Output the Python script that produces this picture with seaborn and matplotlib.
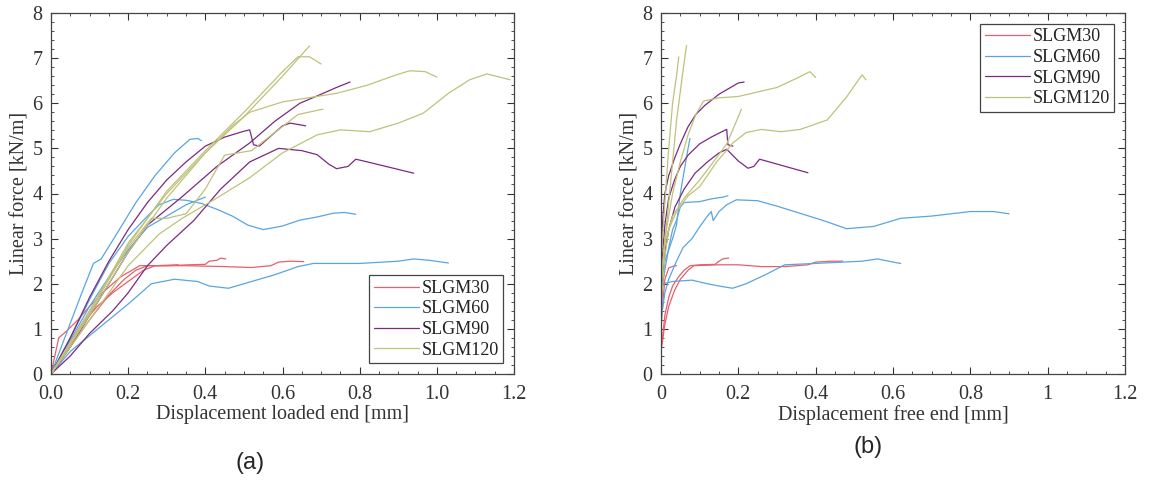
import numpy as np
import pandas as pd
import matplotlib
matplotlib.use("Agg")
import matplotlib.pyplot as plt
from matplotlib.ticker import MultipleLocator
import seaborn as sns

# Groups and colours
groups = ["SLGM30", "SLGM60", "SLGM90", "SLGM120"]
colors = ["#e5606c", "#5aa5e0", "#7a2a80", "#bfc27a"]

# (a) loaded end: each specimen is a list of (displacement mm, force kN/m)
load_slgm30 = [
    [(0, 0), (0.02, 0.8), (0.04, 0.95), (0.07, 1.2), (0.1, 1.5), (0.14, 1.85), (0.18, 2.15), (0.21, 2.3),
     (0.23, 2.4), (0.3, 2.4), (0.36, 2.42), (0.4, 2.43), (0.41, 2.5), (0.43, 2.52), (0.44, 2.57), (0.453, 2.55)],
    [(0, 0), (0.05, 0.6), (0.1, 1.2), (0.15, 1.75), (0.19, 2.1), (0.22, 2.3), (0.25, 2.4), (0.35, 2.4),
     (0.45, 2.38), (0.52, 2.36), (0.57, 2.4), (0.59, 2.48), (0.62, 2.5), (0.655, 2.49)],
    [(0, 0), (0.04, 0.6), (0.08, 1.1), (0.12, 1.5), (0.16, 1.8), (0.2, 2.05), (0.24, 2.3), (0.27, 2.4), (0.33, 2.42)],
]
load_slgm60 = [
    [(0, 0), (0.04, 0.9), (0.08, 1.8), (0.11, 2.45), (0.13, 2.55), (0.17, 3.1), (0.22, 3.8), (0.27, 4.4),
     (0.32, 4.9), (0.36, 5.2), (0.38, 5.22), (0.39, 5.17)],
    [(0, 0), (0.05, 0.8), (0.1, 1.65), (0.15, 2.45), (0.2, 3.05), (0.25, 3.5), (0.28, 3.75), (0.317, 3.87),
     (0.35, 3.85), (0.39, 3.78), (0.43, 3.65), (0.47, 3.5), (0.51, 3.3), (0.55, 3.2), (0.6, 3.28),
     (0.645, 3.41), (0.69, 3.48), (0.73, 3.56), (0.76, 3.58), (0.79, 3.54)],
    [(0, 0), (0.05, 0.5), (0.1, 0.85), (0.15, 1.2), (0.2, 1.55), (0.24, 1.85), (0.26, 2.0), (0.32, 2.1),
     (0.38, 2.05), (0.41, 1.95), (0.46, 1.9), (0.5, 2.0), (0.58, 2.2), (0.64, 2.38), (0.68, 2.45),
     (0.8, 2.45), (0.9, 2.5), (0.94, 2.55), (0.98, 2.52), (1.03, 2.46)],
    [(0, 0), (0.05, 0.75), (0.1, 1.5), (0.15, 2.15), (0.2, 2.75), (0.25, 3.25), (0.3, 3.5), (0.35, 3.75), (0.4, 3.92)],
]
load_slgm90 = [
    [(0, 0), (0.05, 0.6), (0.1, 1.3), (0.15, 2.0), (0.2, 2.7), (0.25, 3.3), (0.3, 3.65), (0.34, 3.93),
     (0.43, 4.6), (0.515, 5.12), (0.58, 5.6), (0.645, 6.0), (0.7, 6.2), (0.74, 6.35), (0.775, 6.47)],
    [(0, 0), (0.05, 0.8), (0.1, 1.7), (0.15, 2.5), (0.2, 3.2), (0.25, 3.8), (0.3, 4.3), (0.35, 4.7),
     (0.4, 5.05), (0.45, 5.25), (0.5, 5.38), (0.515, 5.41), (0.525, 5.08), (0.54, 5.05), (0.56, 5.2),
     (0.6, 5.5), (0.62, 5.56), (0.66, 5.5)],
    [(0, 0), (0.05, 0.4), (0.1, 0.9), (0.16, 1.4), (0.2, 1.8), (0.25, 2.4), (0.3, 2.85), (0.37, 3.4),
     (0.44, 4.1), (0.515, 4.7), (0.59, 5.0), (0.65, 4.95), (0.69, 4.86), (0.72, 4.65), (0.74, 4.55),
     (0.77, 4.6), (0.79, 4.76), (0.82, 4.7), (0.94, 4.45)],
]
load_slgm120 = [
    [(0, 0), (0.1, 1.4), (0.2, 2.9), (0.3, 4.0), (0.4, 4.9), (0.5, 5.7), (0.6, 6.6), (0.67, 7.27)],
    [(0, 0), (0.1, 1.35), (0.2, 2.85), (0.3, 4.05), (0.4, 4.95), (0.5, 5.8), (0.6, 6.7), (0.64, 7.03),
     (0.67, 7.03), (0.7, 6.87)],
    [(0, 0), (0.1, 1.3), (0.2, 2.7), (0.3, 3.9), (0.4, 4.9), (0.47, 5.5), (0.515, 5.8), (0.6, 6.03),
     (0.74, 6.22), (0.82, 6.4), (0.895, 6.63), (0.93, 6.72), (0.97, 6.7), (1.0, 6.58)],
    [(0, 0), (0.1, 1.2), (0.2, 2.4), (0.28, 3.1), (0.34, 3.45), (0.43, 3.9), (0.515, 4.35), (0.6, 4.9),
     (0.69, 5.3), (0.75, 5.41), (0.826, 5.37), (0.9, 5.56), (0.965, 5.78), (1.03, 6.22), (1.085, 6.52),
     (1.13, 6.65), (1.19, 6.52)],
    [(0, 0), (0.1, 1.4), (0.2, 2.8), (0.26, 3.45), (0.3, 3.45), (0.35, 3.55), (0.4, 4.1), (0.45, 4.85),
     (0.52, 4.95), (0.58, 5.35), (0.64, 5.75), (0.705, 5.87)],
]

# (b) free end
free_slgm30 = [
    [(0, 0), (0, 0.55), (0.005, 0.9), (0.01, 1.3), (0.02, 1.7), (0.03, 1.95), (0.045, 2.15), (0.06, 2.3),
     (0.075, 2.4), (0.1, 2.42), (0.14, 2.43), (0.15, 2.5), (0.16, 2.55), (0.175, 2.57)],
    [(0, 0), (0, 0.5), (0.01, 1.1), (0.02, 1.5), (0.035, 1.85), (0.05, 2.1), (0.07, 2.3), (0.085, 2.4),
     (0.15, 2.42), (0.2, 2.42), (0.26, 2.38), (0.32, 2.38), (0.38, 2.42), (0.4, 2.48), (0.44, 2.5), (0.47, 2.5)],
    [(0, 0), (0, 1.0), (0.005, 1.6), (0.01, 2.1), (0.02, 2.35), (0.035, 2.4), (0.04, 2.4)],
]
free_slgm60 = [
    [(0, 0), (0, 2.0), (0.01, 2.5), (0.03, 3.0), (0.04, 3.3), (0.05, 4.0), (0.06, 4.5), (0.07, 5.0), (0.075, 5.22)],
    [(0, 0), (0, 1.8), (0.01, 2.3), (0.02, 2.8), (0.03, 3.2), (0.04, 3.4), (0.05, 3.7), (0.06, 3.8),
     (0.1, 3.82), (0.13, 3.88), (0.16, 3.92), (0.173, 3.95)],
    [(0, 0), (0, 1.2), (0.01, 1.8), (0.02, 2.1), (0.04, 2.5), (0.057, 2.8), (0.08, 3.0), (0.1, 3.26),
     (0.12, 3.5), (0.13, 3.6), (0.135, 3.4), (0.15, 3.6), (0.17, 3.75), (0.195, 3.86), (0.25, 3.84),
     (0.3, 3.72), (0.36, 3.56), (0.42, 3.4), (0.48, 3.22), (0.55, 3.27), (0.62, 3.45), (0.7, 3.5),
     (0.8, 3.6), (0.86, 3.6), (0.9, 3.55)],
    [(0, 0), (0, 1.4), (0.005, 2.0), (0.03, 2.05), (0.08, 2.08), (0.12, 2.0), (0.15, 1.95), (0.185, 1.9),
     (0.22, 2.0), (0.27, 2.2), (0.32, 2.42), (0.4, 2.45), (0.47, 2.48), (0.52, 2.5), (0.56, 2.55),
     (0.6, 2.48), (0.62, 2.45)],
]
free_slgm90 = [
    [(0, 0), (0, 2.5), (0.005, 3.5), (0.01, 4.0), (0.02, 4.4), (0.036, 4.8), (0.05, 5.1), (0.07, 5.48),
     (0.09, 5.75), (0.113, 5.95), (0.15, 6.2), (0.18, 6.35), (0.2, 6.45), (0.215, 6.47)],
    [(0, 0), (0, 2.2), (0.01, 3.3), (0.02, 3.9), (0.035, 4.3), (0.05, 4.6), (0.07, 4.85), (0.1, 5.1),
     (0.13, 5.25), (0.16, 5.38), (0.17, 5.42), (0.173, 5.08), (0.186, 5.05)],
    [(0, 0), (0, 1.5), (0.01, 2.7), (0.02, 3.2), (0.036, 3.7), (0.06, 4.1), (0.088, 4.45), (0.12, 4.7),
     (0.15, 4.9), (0.17, 4.98), (0.185, 4.85), (0.2, 4.72), (0.225, 4.56), (0.24, 4.6), (0.255, 4.76),
     (0.38, 4.46)],
]
free_slgm120 = [
    [(0, 0), (0, 2.0), (0.02, 3.8), (0.04, 5.6), (0.055, 6.6), (0.066, 7.28)],
    [(0, 0), (0, 2.5), (0.01, 3.8), (0.02, 5.0), (0.03, 6.0), (0.04, 6.6), (0.046, 7.03)],
    [(0, 0), (0, 2.0), (0.01, 3.0), (0.03, 4.0), (0.05, 4.7), (0.07, 5.3), (0.09, 5.75), (0.11, 6.05),
     (0.15, 6.12), (0.2, 6.15), (0.25, 6.25), (0.3, 6.35), (0.35, 6.55), (0.385, 6.7), (0.4, 6.57)],
    [(0, 0), (0, 1.5), (0.01, 2.6), (0.02, 3.2), (0.04, 3.6), (0.07, 3.95), (0.1, 4.15), (0.144, 4.7),
     (0.186, 5.12), (0.22, 5.35), (0.26, 5.42), (0.31, 5.37), (0.36, 5.42), (0.43, 5.63), (0.48, 6.14),
     (0.52, 6.63), (0.53, 6.52)],
    [(0, 0), (0, 2.0), (0.01, 2.9), (0.03, 3.5), (0.06, 3.9), (0.1, 4.3), (0.14, 4.75), (0.17, 5.1),
     (0.19, 5.5), (0.208, 5.87)],
]

load_sets = [load_slgm30, load_slgm60, load_slgm90, load_slgm120]
free_sets = [free_slgm30, free_slgm60, free_slgm90, free_slgm120]

left_ticklabels = ["0.0", "0.2", "0.4", "0.6", "0.8", "1.0", "1.2"]
right_ticklabels = ["0", "0.2", "0.4", "0.6", "0.8", "1", "1.2"]


def to_frame(sets):
    rows = []
    for g, specimens in zip(groups, sets):
        for i, pts in enumerate(specimens):
            for x, y in pts:
                rows.append({"x": x, "y": y, "group": g, "unit": f"{g}-{i}"})
    return pd.DataFrame(rows)


df_load = to_frame(load_sets)
df_free = to_frame(free_sets)

sns.set_style("ticks")
plt.rcParams["font.family"] = ["Liberation Serif", "DejaVu Serif"]

fig = plt.figure(figsize=(11.49, 4.82), dpi=100)
ax1 = fig.add_axes([51 / 1149, 108 / 482, 463 / 1149, 361 / 482])
ax2 = fig.add_axes([661 / 1149, 108 / 482, 464 / 1149, 361 / 482])

palette = dict(zip(groups, colors))

for ax, df, xlab, loc, ticklabels in [
        (ax1, df_load, "Displacement loaded end [mm]", "lower right", left_ticklabels),
        (ax2, df_free, "Displacement free end [mm]", "upper right", right_ticklabels)]:
    sns.lineplot(data=df, x="x", y="y", hue="group", units="unit", estimator=None, sort=False,
                 palette=palette, hue_order=groups, linewidth=0.9, ax=ax)
    ax.set_xlim(0, 1.2)
    ax.set_ylim(0, 8)
    ax.set_xticks(np.arange(0, 1.21, 0.2))
    ax.set_xticklabels(ticklabels)
    ax.xaxis.set_minor_locator(MultipleLocator(0.05))
    ax.yaxis.set_major_locator(MultipleLocator(1))
    ax.yaxis.set_minor_locator(MultipleLocator(0.2))
    ax.tick_params(which="both", direction="in", top=True, right=True, labelsize=14.5, colors="#333333")
    ax.tick_params(which="major", length=5, width=0.8)
    ax.tick_params(which="minor", length=2.5, width=0.6)
    ax.tick_params(axis="x", which="major", pad=8)
    ax.tick_params(axis="y", which="major", pad=6)
    for s in ax.spines.values():
        s.set_color("#444444")
        s.set_linewidth(0.9)
    ax.set_xlabel(xlab, fontsize=14.5, color="#333333", labelpad=1)
    ax.set_ylabel("Linear force [kN/m]", fontsize=14.5, color="#333333", labelpad=2)
    handles, labels = ax.get_legend_handles_labels()
    leg = ax.legend(handles, labels, loc=loc, fontsize=13, frameon=True, fancybox=False,
                    edgecolor="#444444", framealpha=1, handlelength=2.5, handletextpad=0.15,
                    labelspacing=0.2, borderpad=0.25, borderaxespad=0.6)
    leg.get_frame().set_linewidth(0.9)
    for t in leg.get_texts():
        t.set_color("#222222")

fig.text(250 / 1149, 1 - 463 / 482, "(a)", ha="center", va="center", fontsize=17,
         family=["Liberation Sans", "DejaVu Sans"])
fig.text(868 / 1149, 1 - 447 / 482, "(b)", ha="center", va="center", fontsize=17,
         family=["Liberation Sans", "DejaVu Sans"])

fig.savefig("out.png", dpi=100)
